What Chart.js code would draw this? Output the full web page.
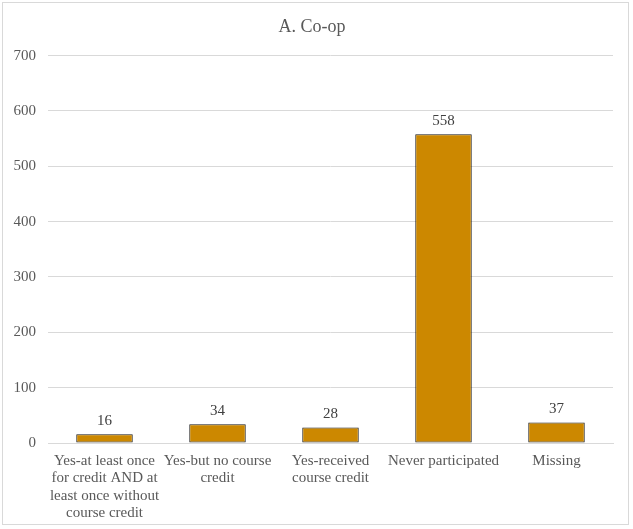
<!DOCTYPE html>
<html>
<head>
<meta charset="utf-8">
<script src="https://cdn.jsdelivr.net/npm/chart.js@4/dist/chart.umd.min.js"></script>
<style>
  html, body { margin: 0; padding: 0; background: #fff; }
  #frame {
    position: absolute; left: 2px; top: 2px;
    width: 627px; height: 523px;
    border: 1px solid #d9d9d9; box-sizing: border-box;
  }
  #chart { display: block; }
</style>
</head>
<body>
<div id="frame"><canvas id="chart" width="625" height="521"></canvas></div>
<script>
const categories = [
  ['Yes-at least once', 'for credit AND at', 'least once without', 'course credit'],
  ['Yes-but no course', 'credit'],
  ['Yes-received', 'course credit'],
  ['Never participated'],
  ['Missing']
];
const counts = [16, 34, 28, 558, 37];
const yTicks = [0, 100, 200, 300, 400, 500, 600, 700];

const FONT = "'Liberation Serif', 'Times New Roman', serif";
const TEXT = '#595959';

// draws the value above each bar
const valueLabels = {
  id: 'valueLabels',
  afterDatasetsDraw(chart) {
    const ctx = chart.ctx;
    const meta = chart.getDatasetMeta(0);
    ctx.save();
    ctx.font = '15px ' + FONT;
    ctx.fillStyle = '#404040';
    ctx.textAlign = 'center';
    ctx.textBaseline = 'bottom';
    meta.data.forEach((bar, i) => {
      ctx.fillText(counts[i], bar.x, bar.y - 6);
    });
    ctx.restore();
  }
};

new Chart(document.getElementById('chart'), {
  type: 'bar',
  data: {
    labels: categories,
    datasets: [{
      data: counts,
      backgroundColor: '#cc8800',
      borderColor: '#1a1a1a',
      borderWidth: 1,
      borderSkipped: false,
      barPercentage: 0.5,
      categoryPercentage: 1
    }]
  },
  plugins: [valueLabels],
  options: {
    responsive: false,
    animation: false,
    layout: { padding: { left: 8, right: 15, top: 0, bottom: 0 } },
    plugins: {
      legend: { display: false },
      tooltip: { enabled: false },
      title: {
        display: true,
        text: 'A. Co-op',
        color: TEXT,
        font: { family: FONT, size: 18, weight: 'normal', lineHeight: 1.2 },
        padding: { top: 13, bottom: 18 }
      }
    },
    scales: {
      x: {
        grid: { display: false },
        border: { color: '#d9d9d9' },
        afterFit(axis) { axis.height = 81; },
        ticks: {
          color: TEXT,
          font: { family: FONT, size: 15, lineHeight: 1.17 },
          maxRotation: 0,
          autoSkip: false,
          padding: 1
        }
      },
      y: {
        min: 0,
        max: 700,
        afterBuildTicks(axis) {
          axis.ticks = yTicks.map(v => ({ value: v }));
        },
        afterFit(axis) { axis.width = 37; },
        grid: { color: '#d9d9d9', drawTicks: false },
        border: { display: false },
        ticks: {
          color: TEXT,
          font: { family: FONT, size: 15 },
          padding: 12
        }
      }
    }
  }
});
</script>
</body>
</html>
